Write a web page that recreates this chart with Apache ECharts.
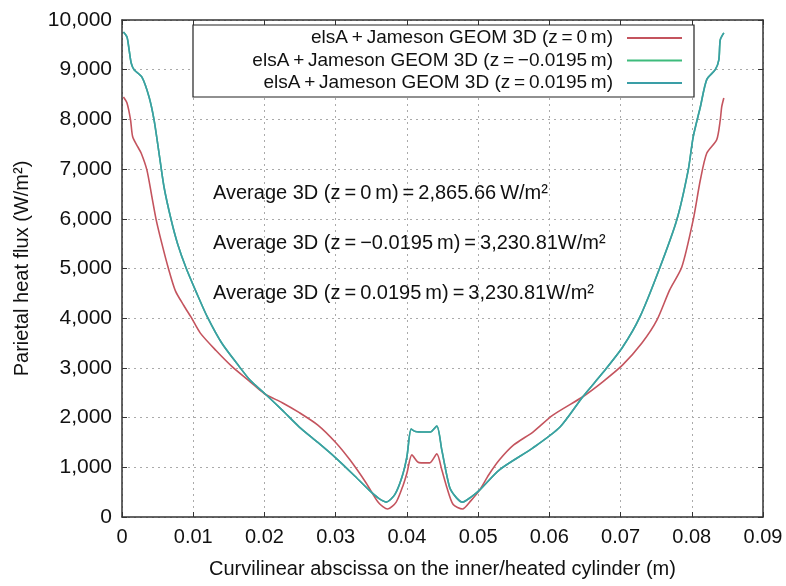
<!DOCTYPE html>
<html>
<head>
<meta charset="utf-8">
<script src="https://cdn.jsdelivr.net/npm/echarts@6/dist/echarts.min.js"></script>
<style>
html,body{margin:0;padding:0;background:#fff;}
#chart{width:786px;height:586px;}
</style>
</head>
<body>
<div id="chart"></div>
<script>
// ---- Data ----
const seriesNames = [
  'elsA\u2009+\u2009Jameson GEOM 3D (z\u2009=\u20090\u2009m)',
  'elsA\u2009+\u2009Jameson GEOM 3D (z\u2009=\u2009\u22120.0195\u2009m)',
  'elsA\u2009+\u2009Jameson GEOM 3D (z\u2009=\u20090.0195\u2009m)'
];
const xRed = [0.0002,0.0007,0.0012,0.0015,0.0022,0.0027,0.0035,0.0042,0.0048,0.0056,0.0065,0.0075,0.0087,0.0097,0.011,0.0132,0.0155,0.018,0.020,0.0225,0.0249,0.0275,0.030,0.032,0.0343,0.036,0.0373,0.0385,0.0395,0.040,0.0407,0.0415,0.042,0.0432,0.0442,0.0449,0.0456,0.0465,0.0478,0.049,0.0502,0.0515,0.053,0.055,0.0577,0.0605,0.0647,0.0675,0.0703,0.073,0.0751,0.0769,0.0786,0.0802,0.0812,0.0821,0.0835,0.084,0.0842,0.0845];
const yRed = [8450,8330,7990,7650,7450,7320,6980,6440,5980,5500,5010,4550,4250,4020,3700,3350,3020,2720,2480,2300,2100,1850,1500,1150,680,290,160,300,650,880,1250,1110,1090,1090,1270,950,600,250,160,330,540,850,1150,1450,1710,2050,2420,2720,3060,3500,3960,4570,5030,5980,6780,7320,7590,7990,8250,8430];
const xNeg = [0.0002,0.0007,0.0010,0.0013,0.0017,0.0028,0.0038,0.0045,0.0052,0.0059,0.0069,0.0078,0.009,0.0105,0.012,0.014,0.0165,0.018,0.020,0.0225,0.0249,0.0275,0.030,0.0325,0.0347,0.036,0.0371,0.0383,0.0393,0.040,0.0406,0.0412,0.0425,0.0433,0.0442,0.0449,0.046,0.047,0.0478,0.049,0.0502,0.053,0.0577,0.0615,0.0647,0.0675,0.0703,0.0727,0.0755,0.0779,0.0795,0.0802,0.0812,0.0821,0.0833,0.0838,0.084,0.0845];
const yNeg = [9760,9660,9400,9130,9000,8850,8450,7990,7320,6640,5980,5500,5010,4500,4020,3500,3020,2750,2490,2150,1810,1500,1190,850,540,380,300,450,800,1210,1770,1720,1710,1710,1830,1350,600,380,300,400,540,950,1390,1810,2420,2900,3420,4020,5010,5980,6980,7650,8250,8800,9000,9200,9600,9740];
const xPos = xNeg.slice();
const yPos = yNeg.slice();
const xTicks = [0,0.01,0.02,0.03,0.04,0.05,0.06,0.07,0.08,0.09];
const yTicks = [0,1000,2000,3000,4000,5000,6000,7000,8000,9000,10000];
const annotations = [
  'Average 3D (z\u2009=\u20090\u2009m)\u2009=\u20092,865.66\u2009W/m\u00B2',
  'Average 3D (z\u2009=\u2009\u22120.0195\u2009m)\u2009=\u20093,230.81W/m\u00B2',
  'Average 3D (z\u2009=\u20090.0195\u2009m)\u2009=\u20093,230.81W/m\u00B2'
];
const colors = ['#c4545e', '#3dbb7c', '#3a9ea6'];

function pairs(xs, ys) { return xs.map((x, i) => [x, ys[i]]); }

const FONT = 'Arial, "Liberation Sans", Helvetica, sans-serif';
const chart = echarts.init(document.getElementById('chart'), null, {renderer: 'canvas', width: 786, height: 586});

const gridLeft = 122, gridTop = 20, gridRight = 786 - 763, gridBottom = 586 - 517;

const option = {
  backgroundColor: '#fff',
  animation: false,
  color: colors,
  grid: {left: gridLeft, top: gridTop, right: gridRight, bottom: gridBottom, containLabel: false, outerBoundsMode: 'none'},
  legend: {
    orient: 'vertical',
    align: 'right',
    right: 104,
    top: 28.5,
    padding: 0,
    itemGap: 3.5,
    itemWidth: 55,
    itemHeight: 2,
    icon: 'rect',
    data: seriesNames,
    textStyle: {fontFamily: FONT, fontSize: 19, color: '#111', lineHeight: 19, padding: [0, 9, 0, 0]}
  },
  xAxis: [{
    type: 'value', min: 0, max: 0.09, interval: 0.01,
    name: 'Curvilinear abscissa on the inner/heated cylinder (m)',
    nameLocation: 'middle', nameGap: 42,
    nameTextStyle: {fontFamily: FONT, fontSize: 20, color: '#111'},
    axisLine: {show: true, onZero: false, lineStyle: {color: '#333', width: 1.5}},
    axisTick: {show: true, inside: true, length: 5, lineStyle: {color: '#333'}},
    axisLabel: {fontFamily: FONT, fontSize: 20, color: '#111', margin: 10,
      formatter: v => v === 0 ? '0' : v.toFixed(2)},
    splitLine: {show: true, lineStyle: {color: '#aaa', type: [2, 4], width: 1}}
  }, {
    type: 'value', min: 0, max: 0.09, interval: 0.01, position: 'top',
    axisLine: {show: true, onZero: false, lineStyle: {color: '#333', width: 1.5}},
    axisTick: {show: true, inside: true, length: 5, lineStyle: {color: '#333'}},
    axisLabel: {show: false}, splitLine: {show: false}
  }],
  yAxis: [{
    type: 'value', min: 0, max: 10000, interval: 1000,
    name: 'Parietal heat flux (W/m\u00B2)',
    nameLocation: 'middle', nameGap: 90,
    nameTextStyle: {fontFamily: FONT, fontSize: 20, color: '#111'},
    axisLine: {show: true, onZero: false, lineStyle: {color: '#333', width: 1.5}},
    axisTick: {show: true, inside: true, length: 5, lineStyle: {color: '#333'}},
    axisLabel: {fontFamily: FONT, fontSize: 21, color: '#111', margin: 10,
      formatter: v => v.toLocaleString('en-US')},
    splitLine: {show: true, lineStyle: {color: '#aaa', type: [2, 4], width: 1}}
  }, {
    type: 'value', min: 0, max: 10000, interval: 1000, position: 'right',
    axisLine: {show: true, onZero: false, lineStyle: {color: '#333', width: 1.5}},
    axisTick: {show: true, inside: true, length: 5, lineStyle: {color: '#333'}},
    axisLabel: {show: false}, splitLine: {show: false}
  }],
  graphic: [
    {type: 'rect', z: 3, shape: {x: 193, y: 25, width: 501, height: 72},
      style: {fill: '#fff', stroke: '#222', lineWidth: 1.2}},
    ...annotations.map((t, i) => ({
      type: 'text', z: 5, x: 213, y: 193 + 50 * i,
      style: {text: t, font: '20px ' + FONT, fill: '#111', verticalAlign: 'middle'}
    }))
  ],
  series: [
    {name: seriesNames[0], type: 'line', data: pairs(xRed, yRed), showSymbol: false, symbol: 'none', smooth: 0.25,
      lineStyle: {width: 1.6, color: colors[0]}, itemStyle: {color: colors[0]}, z: 2},
    {name: seriesNames[1], type: 'line', data: pairs(xNeg, yNeg), showSymbol: false, symbol: 'none', smooth: 0.25,
      lineStyle: {width: 1.6, color: colors[1]}, itemStyle: {color: colors[1]}, z: 2},
    {name: seriesNames[2], type: 'line', data: pairs(xPos, yPos), showSymbol: false, symbol: 'none', smooth: 0.25,
      lineStyle: {width: 1.6, color: colors[2]}, itemStyle: {color: colors[2]}, z: 2}
  ]
};
chart.setOption(option);
</script>
</body>
</html>
